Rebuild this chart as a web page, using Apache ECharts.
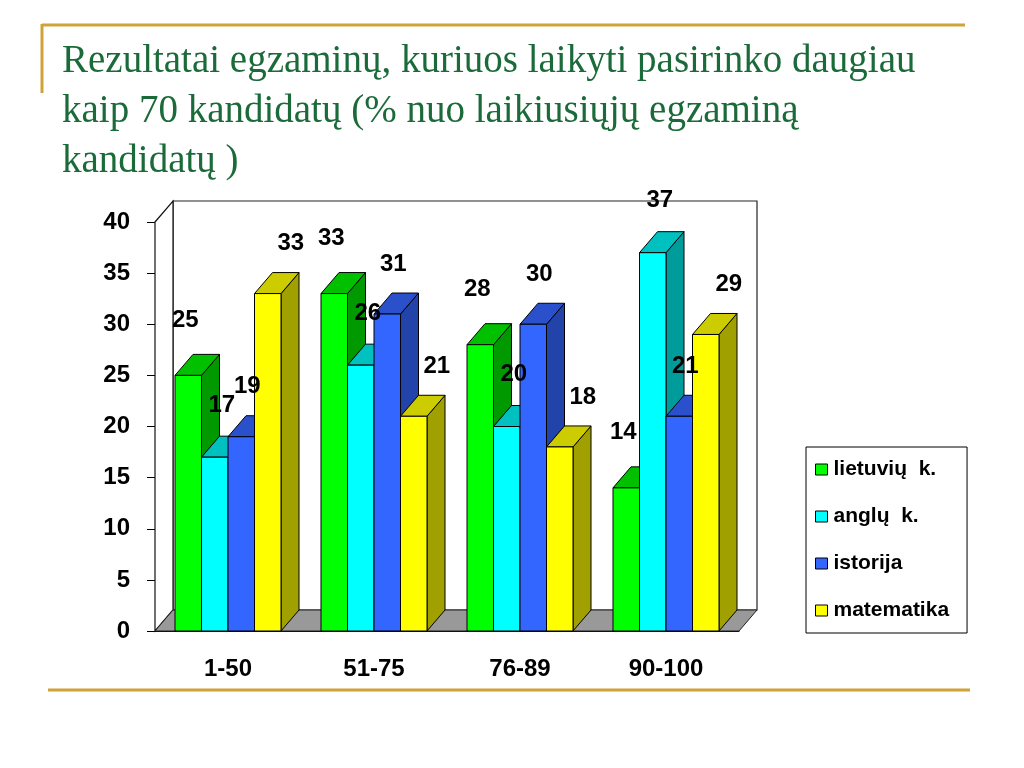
<!DOCTYPE html>
<html>
<head>
<meta charset="utf-8">
<title>Rezultatai egzaminų</title>
<script src="https://cdn.jsdelivr.net/npm/echarts@6/dist/echarts.min.js"></script>
<style>
    html, body { margin: 0; padding: 0; background: #fff; }
    #chart { width: 1024px; height: 768px; }
</style>
</head>
<body>
<div id="chart"></div>
<script>
// duomenys
var categories = ['1-50', '51-75', '76-89', '90-100'];
var seriesNames = ['lietuvių  k.', 'anglų  k.', 'istorija', 'matematika'];
var lietuviu = [25, 33, 28, 14];
var anglu = [17, 26, 20, 37];
var istorija = [19, 31, 30, 21];
var matematika = [33, 21, 18, 29];
var yMin = 0, yMax = 40, yStep = 5;

var values = [lietuviu, anglu, istorija, matematika];

// 3D look
var DX = 18, DY = -21;
var frontColors = ['#00ff00', '#00ffff', '#3366ff', '#ffff00'];
var topColors = ['#00c000', '#00c0c0', '#2a50cc', '#cccc00'];
var sideColors = ['#009900', '#009c9c', '#2244aa', '#a0a000'];
var labelOffX = [-3, 7, 6, 23];
var labelOffY = [55, 52, 50, 50];
var groupRatio = 106 / 146;

var chartFont = 'Liberation Sans';

function barX(api, i, s) {
    var band = api.size([1, 0])[0];
    var gw = band * groupRatio;
    var w = gw / 4;
    var c = api.coord([i, 0])[0];
    return { x0: c - gw / 2 + s * w, w: w };
}

function renderWalls(params, api) {
    var band = api.size([1, 0])[0];
    var x0 = api.coord([0, yMin])[0] - band / 2;
    var x1 = api.coord([categories.length - 1, yMin])[0] + band / 2;
    var yb = api.coord([0, yMin])[1];
    var yt = api.coord([0, yMax])[1];
    return {
        type: 'group',
        children: [
            {
                type: 'polygon',
                shape: { points: [[x0 + DX, yt + DY], [x1 + DX, yt + DY], [x1 + DX, yb + DY], [x0 + DX, yb + DY]] },
                style: { fill: '#fff', stroke: '#222', lineWidth: 1.2 }
            },
            {
                type: 'polygon',
                shape: { points: [[x0, yt], [x0 + DX, yt + DY], [x0 + DX, yb + DY], [x0, yb]] },
                style: { fill: '#fff', stroke: '#111', lineWidth: 1.2 }
            },
            {
                type: 'polygon',
                shape: { points: [[x0, yb], [x0 + DX, yb + DY], [x1 + DX, yb + DY], [x1, yb]] },
                style: { fill: '#999999', stroke: '#222', lineWidth: 1 }
            }
        ]
    };
}

function makeBarRenderer(s) {
    return function (params, api) {
        var i = api.value(0);
        var v = api.value(1);
        var b = barX(api, i, s);
        var yt = api.coord([i, v])[1];
        var yb = api.coord([i, yMin])[1];
        var x0 = b.x0, x1 = b.x0 + b.w;
        return {
            type: 'group',
            children: [
                {
                    type: 'polygon',
                    shape: { points: [[x1, yt], [x1 + DX, yt + DY], [x1 + DX, yb + DY], [x1, yb]] },
                    style: { fill: sideColors[s], stroke: '#000', lineWidth: 1 }
                },
                {
                    type: 'polygon',
                    shape: { points: [[x0, yt], [x1, yt], [x1 + DX, yt + DY], [x0 + DX, yt + DY]] },
                    style: { fill: topColors[s], stroke: '#000', lineWidth: 1 }
                },
                {
                    type: 'rect',
                    shape: { x: x0, y: yt, width: b.w, height: yb - yt },
                    style: { fill: frontColors[s], stroke: '#000', lineWidth: 1 }
                }
            ]
        };
    };
}

function renderLabels(params, api) {
    var i = api.value(0);
    var v = api.value(1);
    var s = api.value(2);
    var b = barX(api, i, s);
    var yt = api.coord([i, v])[1];
    return {
        type: 'text',
        x: b.x0 + b.w / 2 + labelOffX[s],
        y: yt - labelOffY[s],
        style: {
            text: String(v),
            font: 'bold 24px "' + chartFont + '"',
            fill: '#000',
            textAlign: 'center',
            textVerticalAlign: 'middle'
        }
    };
}

var series = [{
    type: 'custom',
    name: 'walls',
    z: 1,
    silent: true,
    renderItem: renderWalls,
    encode: { x: 0, y: 1 },
    data: [[0, 0]]
}];

values.forEach(function (arr, s) {
    series.push({
        type: 'custom',
        name: seriesNames[s],
        z: 2 + s,
        itemStyle: { color: frontColors[s] },
        renderItem: makeBarRenderer(s),
        encode: { x: 0, y: 1 },
        data: arr.map(function (v, i) { return [i, v]; })
    });
});

var labelData = [];
values.forEach(function (arr, s) {
    arr.forEach(function (v, i) { labelData.push([i, v, s]); });
});
series.push({
    type: 'custom',
    name: 'labels',
    z: 10,
    silent: true,
    renderItem: renderLabels,
    encode: { x: 0, y: 1 },
    data: labelData
});

var gold = '#cfa23a';

var option = {
    backgroundColor: '#fff',
    animation: false,
    title: {
        text: 'Rezultatai egzaminų, kuriuos laikyti pasirinko daugiau\nkaip 70 kandidatų (% nuo laikiusiųjų egzaminą\nkandidatų )',
        left: 62,
        top: 37,
        padding: 0,
        textStyle: {
            fontFamily: 'Liberation Serif',
            fontSize: 39,
            fontWeight: 'normal',
            color: '#1b6b3a',
            lineHeight: 50
        }
    },
    graphic: [
        { type: 'line', shape: { x1: 42, y1: 25, x2: 965, y2: 25 }, style: { stroke: gold, lineWidth: 3 } },
        { type: 'line', shape: { x1: 42, y1: 24, x2: 42, y2: 93 }, style: { stroke: gold, lineWidth: 3 } },
        { type: 'line', shape: { x1: 48, y1: 690, x2: 970, y2: 690 }, style: { stroke: gold, lineWidth: 3 } }
    ],
    legend: {
        data: seriesNames,
        orient: 'vertical',
        left: 806,
        top: 447,
        icon: 'rect',
        itemWidth: 12,
        itemHeight: 11,
        itemGap: 26,
        padding: [12, 18, 12, 9],
        borderColor: '#000',
        borderWidth: 1,
        backgroundColor: '#fff',
        selectedMode: false,
        itemStyle: { borderColor: '#000', borderWidth: 1 },
        textStyle: {
            fontFamily: chartFont,
            fontWeight: 'bold',
            fontSize: 21,
            color: '#000',
            lineHeight: 20,
            padding: [0, 0, 0, 1]
        }
    },
    grid: {
        left: 155,
        top: 222,
        width: 584,
        height: 409,
        containLabel: false
    },
    xAxis: {
        type: 'category',
        data: categories,
        axisLine: { lineStyle: { color: '#000', width: 1 } },
        axisTick: { length: 8, lineStyle: { color: '#000' } },
        axisLabel: {
            margin: 26,
            color: '#000',
            fontFamily: chartFont,
            fontWeight: 'bold',
            fontSize: 24
        },
        z: 0
    },
    yAxis: {
        type: 'value',
        min: yMin,
        max: yMax,
        interval: yStep,
        axisLine: { show: true, lineStyle: { color: '#000', width: 1 } },
        axisTick: { show: true, length: 8, lineStyle: { color: '#000' } },
        splitLine: { show: false },
        axisLabel: {
            margin: 25,
            color: '#000',
            fontFamily: chartFont,
            fontWeight: 'bold',
            fontSize: 24
        },
        z: 0
    },
    series: series
};

var myChart = echarts.init(document.getElementById('chart'));
myChart.setOption(option);
</script>
</body>
</html>
